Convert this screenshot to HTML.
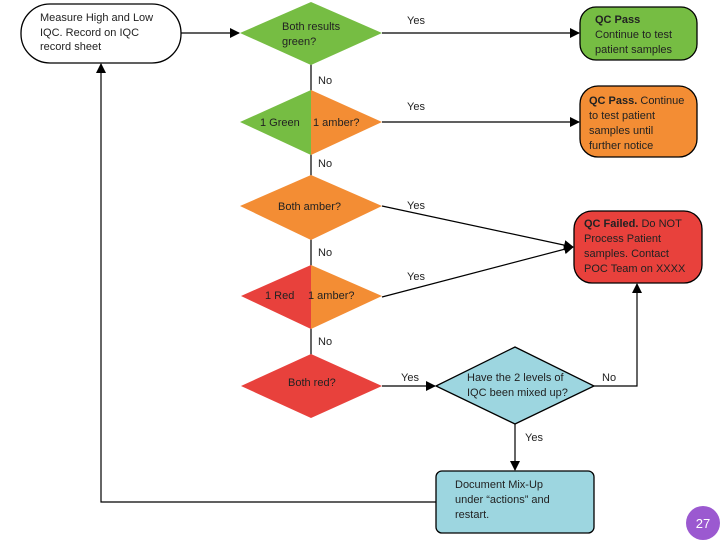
<!DOCTYPE html>
<html><head><meta charset="utf-8"><style>
html,body{margin:0;padding:0;background:#fff;}
svg text{font-family:"Liberation Sans",sans-serif;font-size:11px;fill:#222;}
</style></head><body>
<svg width="720" height="540" viewBox="0 0 720 540" xmlns="http://www.w3.org/2000/svg">
<defs><marker id="a" markerWidth="10" markerHeight="10" refX="9" refY="5" orient="auto" markerUnits="userSpaceOnUse"><path d="M0,0 L10,5 L0,10 z" fill="#000"/></marker></defs>
<!-- start box -->
<rect x="21" y="4" width="160" height="59" rx="29" fill="#fff" stroke="#000" stroke-width="1.3"/>
<text x="40" y="21">Measure High and Low</text>
<text x="40" y="36">IQC. Record on IQC</text>
<text x="40" y="50">record sheet</text>
<line x1="181" y1="33" x2="239" y2="33" stroke="#000" stroke-width="1.3" marker-end="url(#a)"/>
<!-- vertical spine -->
<line x1="311" y1="60" x2="311" y2="360" stroke="#000" stroke-width="1.2"/>
<!-- D1 -->
<polygon points="240,33 311,2 382,33 311,65" fill="#76bd43"/>
<text x="282" y="30">Both results</text><text x="282" y="45">green?</text>
<!-- D2 -->
<polygon points="240,122 311,90 311,155" fill="#76bd43"/>
<polygon points="311,90 382,122 311,155" fill="#f38d34"/>
<text x="260" y="126">1 Green</text><text x="313" y="126">1 amber?</text>
<!-- D3 -->
<polygon points="240,206 311,175 382,206 311,240" fill="#f38d34"/>
<text x="278" y="210">Both amber?</text>
<!-- D4 -->
<polygon points="241,296 311,265 311,329" fill="#e8413c"/>
<polygon points="311,265 382,296 311,329" fill="#f38d34"/>
<text x="265" y="299">1 Red</text><text x="308" y="299">1 amber?</text>
<!-- D5 -->
<polygon points="241,386 311,354 382,386 311,418" fill="#e8413c"/>
<text x="288" y="386">Both red?</text>
<!-- No labels -->
<text x="318" y="84">No</text><text x="318" y="167">No</text><text x="318" y="256">No</text><text x="318" y="345">No</text>
<!-- Yes connectors -->
<line x1="382" y1="33" x2="579" y2="33" stroke="#000" stroke-width="1.2" marker-end="url(#a)"/>
<text x="407" y="24">Yes</text>
<line x1="382" y1="122" x2="579" y2="122" stroke="#000" stroke-width="1.2" marker-end="url(#a)"/>
<text x="407" y="110">Yes</text>
<line x1="382" y1="206" x2="573" y2="247" stroke="#000" stroke-width="1.2" marker-end="url(#a)"/>
<text x="407" y="209">Yes</text>
<line x1="382" y1="297" x2="573" y2="247" stroke="#000" stroke-width="1.2" marker-end="url(#a)"/>
<text x="407" y="280">Yes</text>
<line x1="382" y1="386" x2="435" y2="386" stroke="#000" stroke-width="1.2" marker-end="url(#a)"/>
<text x="401" y="381">Yes</text>
<!-- outcome boxes -->
<rect x="580" y="7" width="117" height="53" rx="16" fill="#76bd43" stroke="#000" stroke-width="1.3"/>
<text x="595" y="23" font-weight="bold">QC Pass</text>
<text x="595" y="38">Continue to test</text>
<text x="595" y="53">patient samples</text>
<rect x="580" y="86" width="117" height="71" rx="18" fill="#f38d34" stroke="#000" stroke-width="1.3"/>
<text x="589" y="104"><tspan font-weight="bold">QC Pass.</tspan> Continue</text>
<text x="589" y="119">to test patient</text>
<text x="589" y="134">samples until</text>
<text x="589" y="149">further notice</text>
<rect x="574" y="211" width="128" height="72" rx="18" fill="#e8413c" stroke="#000" stroke-width="1.3"/>
<text x="584" y="227"><tspan font-weight="bold">QC Failed.</tspan> Do NOT</text>
<text x="584" y="242">Process Patient</text>
<text x="584" y="257">samples. Contact</text>
<text x="584" y="272">POC Team on XXXX</text>
<!-- cyan diamond -->
<polygon points="436,386 515,347 594,386 515,424" fill="#9dd6e0" stroke="#000" stroke-width="1.3"/>
<text x="467" y="381">Have the 2 levels of</text>
<text x="467" y="396">IQC been mixed up?</text>
<polyline points="594,386 637,386 637,284" fill="none" stroke="#000" stroke-width="1.2" marker-end="url(#a)"/>
<text x="602" y="381">No</text>
<line x1="515" y1="424" x2="515" y2="470" stroke="#000" stroke-width="1.2" marker-end="url(#a)"/>
<text x="525" y="441">Yes</text>
<rect x="436" y="471" width="158" height="62" rx="6" fill="#9dd6e0" stroke="#000" stroke-width="1.3"/>
<text x="455" y="488">Document Mix-Up</text>
<text x="455" y="503">under “actions” and</text>
<text x="455" y="518">restart.</text>
<polyline points="436,502 101,502 101,64" fill="none" stroke="#000" stroke-width="1.2" marker-end="url(#a)"/>
<!-- page number -->
<circle cx="703" cy="523" r="17" fill="#9b59d0"/>
<text x="703" y="528" text-anchor="middle" style="fill:#fff;font-size:13px">27</text>
</svg>
</body></html>
